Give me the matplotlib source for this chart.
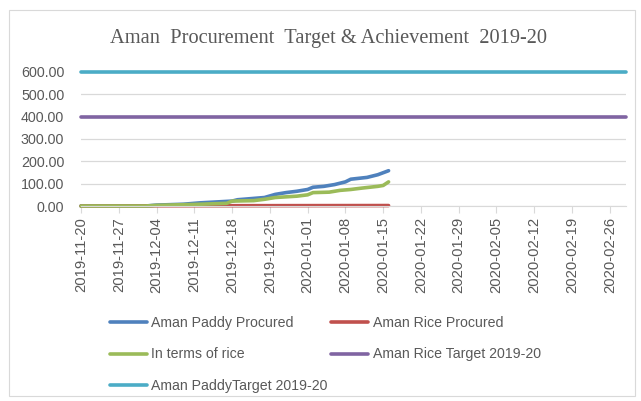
import pandas as pd
import numpy as np
import matplotlib.pyplot as plt
from matplotlib.patches import Rectangle

# data
paddy_dates = ['2019-11-20', '2019-12-02', '2019-12-04', '2019-12-09', '2019-12-12', '2019-12-15',
               '2019-12-18', '2019-12-19', '2019-12-21', '2019-12-24', '2019-12-26', '2019-12-28',
               '2019-12-30', '2020-01-01', '2020-01-02', '2020-01-04', '2020-01-06', '2020-01-08',
               '2020-01-09', '2020-01-12', '2020-01-14', '2020-01-16']
paddy_vals = [0, 0, 4, 8, 14, 18, 22, 28, 32, 38, 52, 60, 66, 74, 84, 88, 96, 108, 120, 128, 140, 158]

rice_dates = ['2019-11-20', '2019-12-02', '2019-12-04', '2019-12-11', '2019-12-17', '2019-12-18',
              '2019-12-22', '2019-12-24', '2019-12-26', '2019-12-30', '2020-01-01', '2020-01-02',
              '2020-01-05', '2020-01-07', '2020-01-09', '2020-01-11', '2020-01-14', '2020-01-15',
              '2020-01-16']
rice_vals = [0, 0, 3, 7, 12, 22, 24, 30, 38, 44, 50, 60, 62, 70, 74, 80, 88, 92, 108]

rice_proc_dates = ['2019-11-20', '2019-12-04', '2020-01-16']
rice_proc_vals = [0, 1, 2]

target_dates = ['2019-11-20', '2020-02-29']
rice_target = [400, 400]
paddy_target = [600, 600]

labels = ['Aman Paddy Procured', 'Aman Rice Procured', 'In terms of rice',
          'Aman Rice Target 2019-20', 'Aman PaddyTarget 2019-20']
colors = ['#4F81BD', '#C0504D', '#9BBB59', '#8064A2', '#4BACC6']

fig = plt.figure(figsize=(6.41, 4.01), dpi=100)
ax = fig.add_axes([81/641, 1-206/401, (626-81)/641, (206-72)/401])

series = [(paddy_dates, paddy_vals), (rice_proc_dates, rice_proc_vals), (rice_dates, rice_vals),
          (target_dates, rice_target), (target_dates, paddy_target)]
lines = []
for (d, v), lab, col in zip(series, labels, colors):
    ln, = ax.plot(pd.to_datetime(d), v, color=col, lw=2.6, label=lab,
                  solid_capstyle='round', clip_on=False)
    lines.append(ln)

ax.set_xlim(pd.Timestamp('2019-11-20'), pd.Timestamp('2020-02-29'))
ax.set_ylim(0, 600)
ax.set_yticks(np.arange(0, 601, 100))
ax.yaxis.set_major_formatter(plt.FuncFormatter(lambda v, p: '%.2f' % v))
ticks = pd.date_range('2019-11-20', '2020-02-26', freq='7D')
ax.set_xticks(ticks)
ax.set_xticklabels([t.strftime('%Y-%m-%d') for t in ticks], rotation=90)

ax.grid(axis='y', color='#D9D9D9', lw=0.9)
ax.set_axisbelow(True)
for s in ['top', 'right', 'left']:
    ax.spines[s].set_visible(False)
ax.spines['bottom'].set_color('#D9D9D9')
ax.tick_params(axis='y', length=0, pad=12, labelsize=10.3, labelcolor='#595959')
ax.tick_params(axis='x', length=5, color='#D9D9D9', pad=3, labelsize=10.6, labelcolor='#595959')
for t in ax.get_xticklabels() + ax.get_yticklabels():
    t.set_fontfamily('Liberation Sans')

fig.text(328/641, 1-39/401, 'Aman  Procurement  Target & Achievement  2019-20',
         ha='center', va='center', fontsize=14.7, color='#595959', family='Liberation Serif')

order = [0, 2, 4, 1, 3]
leg = fig.legend([lines[i] for i in order], [labels[i] for i in order], ncol=2,
                 loc='upper left', bbox_to_anchor=(97/641, 1-303/401), frameon=False,
                 handlelength=2.6, handletextpad=0.3, columnspacing=0.3, labelspacing=1.25,
                 prop={'family': 'Liberation Sans', 'size': 10.2})
for t in leg.get_texts():
    t.set_color('#595959')

fig.patches.append(Rectangle((9/641, 5/401), 626/641, 386/401, transform=fig.transFigure,
                             fill=False, edgecolor='#D9D9D9', lw=0.8))

plt.savefig('out.png', dpi=100)
